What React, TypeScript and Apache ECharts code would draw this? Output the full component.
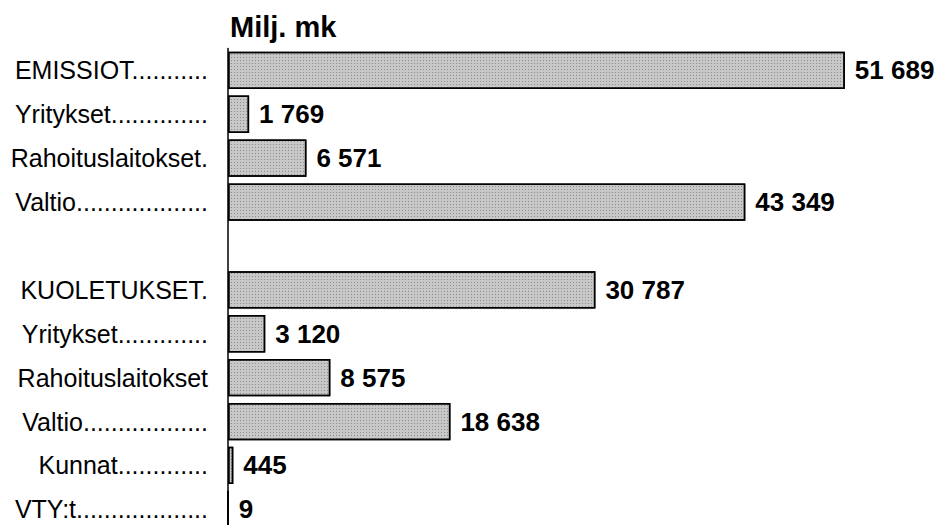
import React, { useEffect, useRef } from "react";
import * as echarts from "echarts";

const categories = [
  "EMISSIOT...........",
  "Yritykset..............",
  "Rahoituslaitokset.",
  "Valtio...................",
  "",
  "KUOLETUKSET.",
  "Yritykset.............",
  "Rahoituslaitokset",
  "Valtio..................",
  "Kunnat.............",
  "VTY:t...................",
];
const values: (number | null)[] = [51689, 1769, 6571, 43349, null, 30787, 3120, 8575, 18638, 445, 9];
const title = "Milj. mk";

const fmt = (v: number) => String(v).replace(/\B(?=(\d{3})+(?!\d))/g, " ");

export default function App() {
  const ref = useRef<HTMLDivElement>(null);
  useEffect(() => {
    if (!ref.current) return;
    const chart = echarts.init(ref.current, null, { renderer: "svg" });
    chart.setOption({
      animation: false,
      backgroundColor: "#ffffff",
      title: {
        text: title,
        left: 225,
        top: 7,
        textStyle: { fontFamily: "Liberation Sans, Arial, sans-serif", fontWeight: "bold", fontSize: 29, color: "#000" },
      },
      grid: { left: 228, top: 48.4, width: 716, height: 482.9, containLabel: false, outerBoundsMode: "none" },
      xAxis: {
        type: "value",
        min: 0,
        max: 60000,
        show: false,
      },
      yAxis: {
        type: "category",
        inverse: true,
        data: categories,
        axisLine: { show: true, lineStyle: { color: "#000", width: 1.5 } },
        axisTick: { show: false },
        axisLabel: {
          show: true,
          margin: 20,
          color: "#000",
          fontSize: 25,
          fontFamily: "Liberation Sans, Arial, sans-serif",
        },
      },
      series: [
        {
          type: "bar",
          data: values,
          barCategoryGap: "15%",
          itemStyle: {
            color: "#c8c8c8",
            borderColor: "#000",
            borderWidth: 1.5,
            decal: {
              symbol: "rect",
              symbolSize: 1,
              dashArrayX: [1, 2],
              dashArrayY: [1, 2],
              color: "rgba(0,0,0,0.3)",
              rotation: 0,
            },
          },
          label: {
            show: true,
            position: "right",
            distance: 10,
            color: "#000",
            fontWeight: "bold",
            fontSize: 26,
            lineHeight: 26,
            fontFamily: "Liberation Sans, Arial, sans-serif",
            formatter: (p: any) => fmt(p.value),
          },
        },
      ],
    });
    return () => chart.dispose();
  }, []);
  return <div ref={ref} style={{ width: 941, height: 525, position: "absolute", left: 0, top: 0 }} />;
}
